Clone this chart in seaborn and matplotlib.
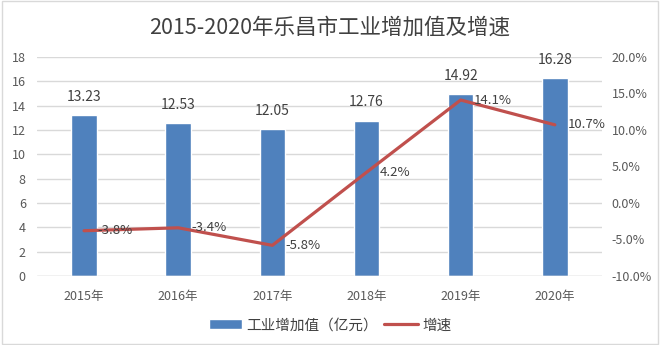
import matplotlib
matplotlib.use("Agg")
import matplotlib.pyplot as plt
import seaborn as sns
import pandas as pd
from matplotlib.ticker import FuncFormatter

years = ["2015年", "2016年", "2017年", "2018年", "2019年", "2020年"]
value = [13.23, 12.53, 12.05, 12.76, 14.92, 16.28]
growth = [-3.8, -3.4, -5.8, 4.2, 14.1, 10.7]
bar_labels = ["13.23", "12.53", "12.05", "12.76", "14.92", "16.28"]
line_labels = ["-3.8%", "-3.4%", "-5.8%", "4.2%", "14.1%", "10.7%"]

sns.set_theme(style="white")
plt.rcParams["font.family"] = ["Noto Sans CJK SC", "DejaVu Sans"]
plt.rcParams["axes.unicode_minus"] = False

df = pd.DataFrame({"year": years, "value": value, "growth": growth})

fig = plt.figure(figsize=(6.6, 3.45), dpi=100)
ax = fig.add_axes([0.056, 0.2, 0.856, 0.635])
bar_color = "#4F81BD"
line_color = "#C0504D"

sns.barplot(data=df, x="year", y="value", color=bar_color, width=0.27,
            saturation=1, ax=ax, label="工业增加值（亿元）")
ax.set_ylim(0, 18)
ax.set_yticks(range(0, 19, 2))
ax.set_xlim(-0.5, 5.5)
ax.grid(axis="y", color="#D9D9D9", linewidth=1)
ax.set_axisbelow(True)
for s in ax.spines.values():
    s.set_visible(False)
ax.axhline(0, color="#D9D9D9", linewidth=1)
ax.set_xlabel("")
ax.set_ylabel("")
ax.tick_params(axis="both", length=0, labelsize=9, colors="#595959")
ax.tick_params(axis="y", pad=8)
ax.tick_params(axis="x", pad=10)
for i, (v, t) in enumerate(zip(value, bar_labels)):
    ax.text(i, v + 1.5, t, ha="center", va="center", fontsize=10, color="#404040")

ax2 = ax.twinx()
sns.lineplot(x=list(range(len(years))), y=growth, color=line_color, linewidth=2.3,
             ax=ax2, label="增速", legend=False)
ax2.set_ylim(-10, 20)
ax2.set_yticks(range(-10, 21, 5))
ax2.yaxis.set_major_formatter(FuncFormatter(lambda v, p: f"{v:.1f}%"))
for s in ax2.spines.values():
    s.set_visible(False)
ax2.tick_params(axis="both", length=0, labelsize=9, colors="#595959", pad=7)
ax2.set_ylabel("")
for i, (g, t) in enumerate(zip(growth, line_labels)):
    ax2.text(i + 0.14, g, t, ha="left", va="center", fontsize=9.5, color="#404040")

h1, l1 = ax.get_legend_handles_labels()
h2, l2 = ax2.get_legend_handles_labels()
if ax.get_legend():
    ax.get_legend().remove()
fig.legend(h1 + h2, l1 + l2, loc="center", bbox_to_anchor=(0.5, 0.057), ncol=2,
           frameon=False, fontsize=10.5, handlelength=2.3, columnspacing=0.4,
           handletextpad=0.3, labelcolor="#404040")

fig.suptitle("2015-2020年乐昌市工业增加值及增速", y=0.92, va="center",
             fontsize=15.5, color="#404040")

fig.patches.append(plt.Rectangle((0.003, 0.003), 0.994, 0.994, transform=fig.transFigure,
                                 fill=False, edgecolor="#D9D9D9", linewidth=1))
fig.savefig("out.png", dpi=100)
